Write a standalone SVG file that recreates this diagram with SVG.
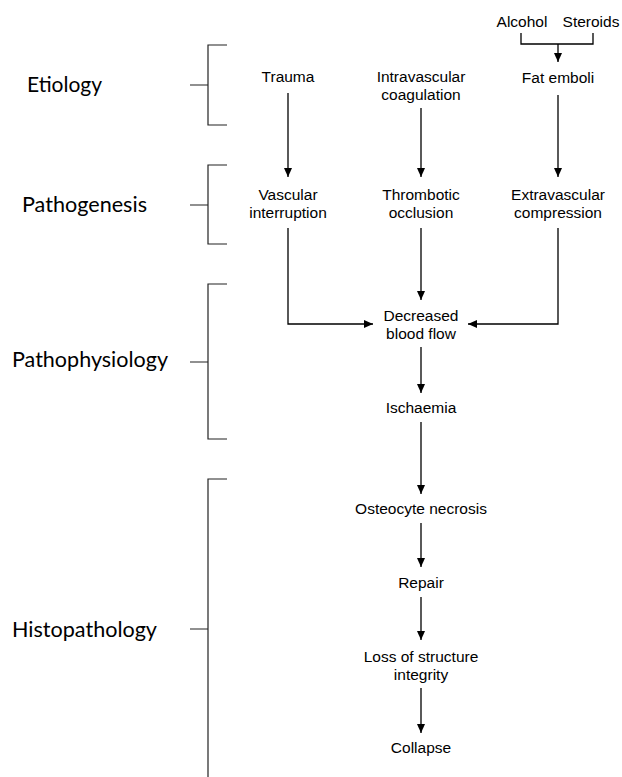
<svg xmlns="http://www.w3.org/2000/svg" width="622" height="777" viewBox="0 0 622 777">
<style>
.t{font-family:"Liberation Sans",Arial,sans-serif;font-size:15.5px;fill:#000;text-anchor:middle}
.lab{font-family:Lato,"Open Sans",sans-serif;font-size:22px;fill:#000}
.br{fill:none;stroke:#222;stroke-width:1.2}
.c{fill:none;stroke:#000;stroke-width:1.3}
</style>
<defs>
<marker id="ah" markerUnits="userSpaceOnUse" markerWidth="9" markerHeight="8" refX="9" refY="4" orient="auto">
<path d="M0,0 L9,4 L0,8 z" fill="#000"/>
</marker>
</defs>
<rect width="622" height="777" fill="#fff"/>
<g id="stages">
<g id="etiology"><path class="br" d="M227,45 H208 V125 H227 M190,85 H208"/><text class="lab" x="27" y="92" textLength="75" lengthAdjust="spacingAndGlyphs">Etiology</text></g>
<g id="pathogenesis"><path class="br" d="M227,165 H208 V244 H227 M190,205 H208"/><text class="lab" x="22" y="212" textLength="125" lengthAdjust="spacingAndGlyphs">Pathogenesis</text></g>
<g id="pathophysiology"><path class="br" d="M227,284 H208 V439 H227 M190,362 H208"/><text class="lab" x="12" y="367" textLength="156" lengthAdjust="spacingAndGlyphs">Pathophysiology</text></g>
<g id="histopathology"><path class="br" d="M227,479 H208 V777 M190,629 H208"/><text class="lab" x="12" y="637" textLength="145" lengthAdjust="spacingAndGlyphs">Histopathology</text></g>
</g>
<g id="connectors">
<path class="c" d="M521,33 V44 H593 V33"/>
<path class="c" d="M558,44 V62" marker-end="url(#ah)"/>
<path class="c" d="M288,93 V177" marker-end="url(#ah)"/>
<path class="c" d="M421,108 V177" marker-end="url(#ah)"/>
<path class="c" d="M558,95 V177" marker-end="url(#ah)"/>
<path class="c" d="M288,228 V324 H373" marker-end="url(#ah)"/>
<path class="c" d="M421,228 V300" marker-end="url(#ah)"/>
<path class="c" d="M558,228 V324 H468" marker-end="url(#ah)"/>
<path class="c" d="M421,347 V393" marker-end="url(#ah)"/>
<path class="c" d="M421,422 V494" marker-end="url(#ah)"/>
<path class="c" d="M421,523 V567" marker-end="url(#ah)"/>
<path class="c" d="M421,597 V640" marker-end="url(#ah)"/>
<path class="c" d="M421,688 V733" marker-end="url(#ah)"/>
</g>
<g id="alcohol"><text class="t" x="522" y="27">Alcohol</text></g>
<g id="steroids"><text class="t" x="591" y="27">Steroids</text></g>
<g id="trauma"><text class="t" x="288" y="82">Trauma</text></g>
<g id="intravascular"><text class="t" x="421" y="82">Intravascular</text><text class="t" x="421" y="100">coagulation</text></g>
<g id="fat-emboli"><text class="t" x="558" y="83">Fat emboli</text></g>
<g id="vascular"><text class="t" x="288" y="200">Vascular</text><text class="t" x="288" y="218">interruption</text></g>
<g id="thrombotic"><text class="t" x="421" y="200">Thrombotic</text><text class="t" x="421" y="218">occlusion</text></g>
<g id="extravascular"><text class="t" x="558" y="200">Extravascular</text><text class="t" x="558" y="218">compression</text></g>
<g id="decreased"><text class="t" x="421" y="321">Decreased</text><text class="t" x="421" y="339">blood flow</text></g>
<g id="ischaemia"><text class="t" x="421" y="413">Ischaemia</text></g>
<g id="osteocyte"><text class="t" x="421" y="514">Osteocyte necrosis</text></g>
<g id="repair"><text class="t" x="421" y="588">Repair</text></g>
<g id="loss"><text class="t" x="421" y="662">Loss of structure</text><text class="t" x="421" y="680">integrity</text></g>
<g id="collapse"><text class="t" x="421" y="753">Collapse</text></g>
</svg>
